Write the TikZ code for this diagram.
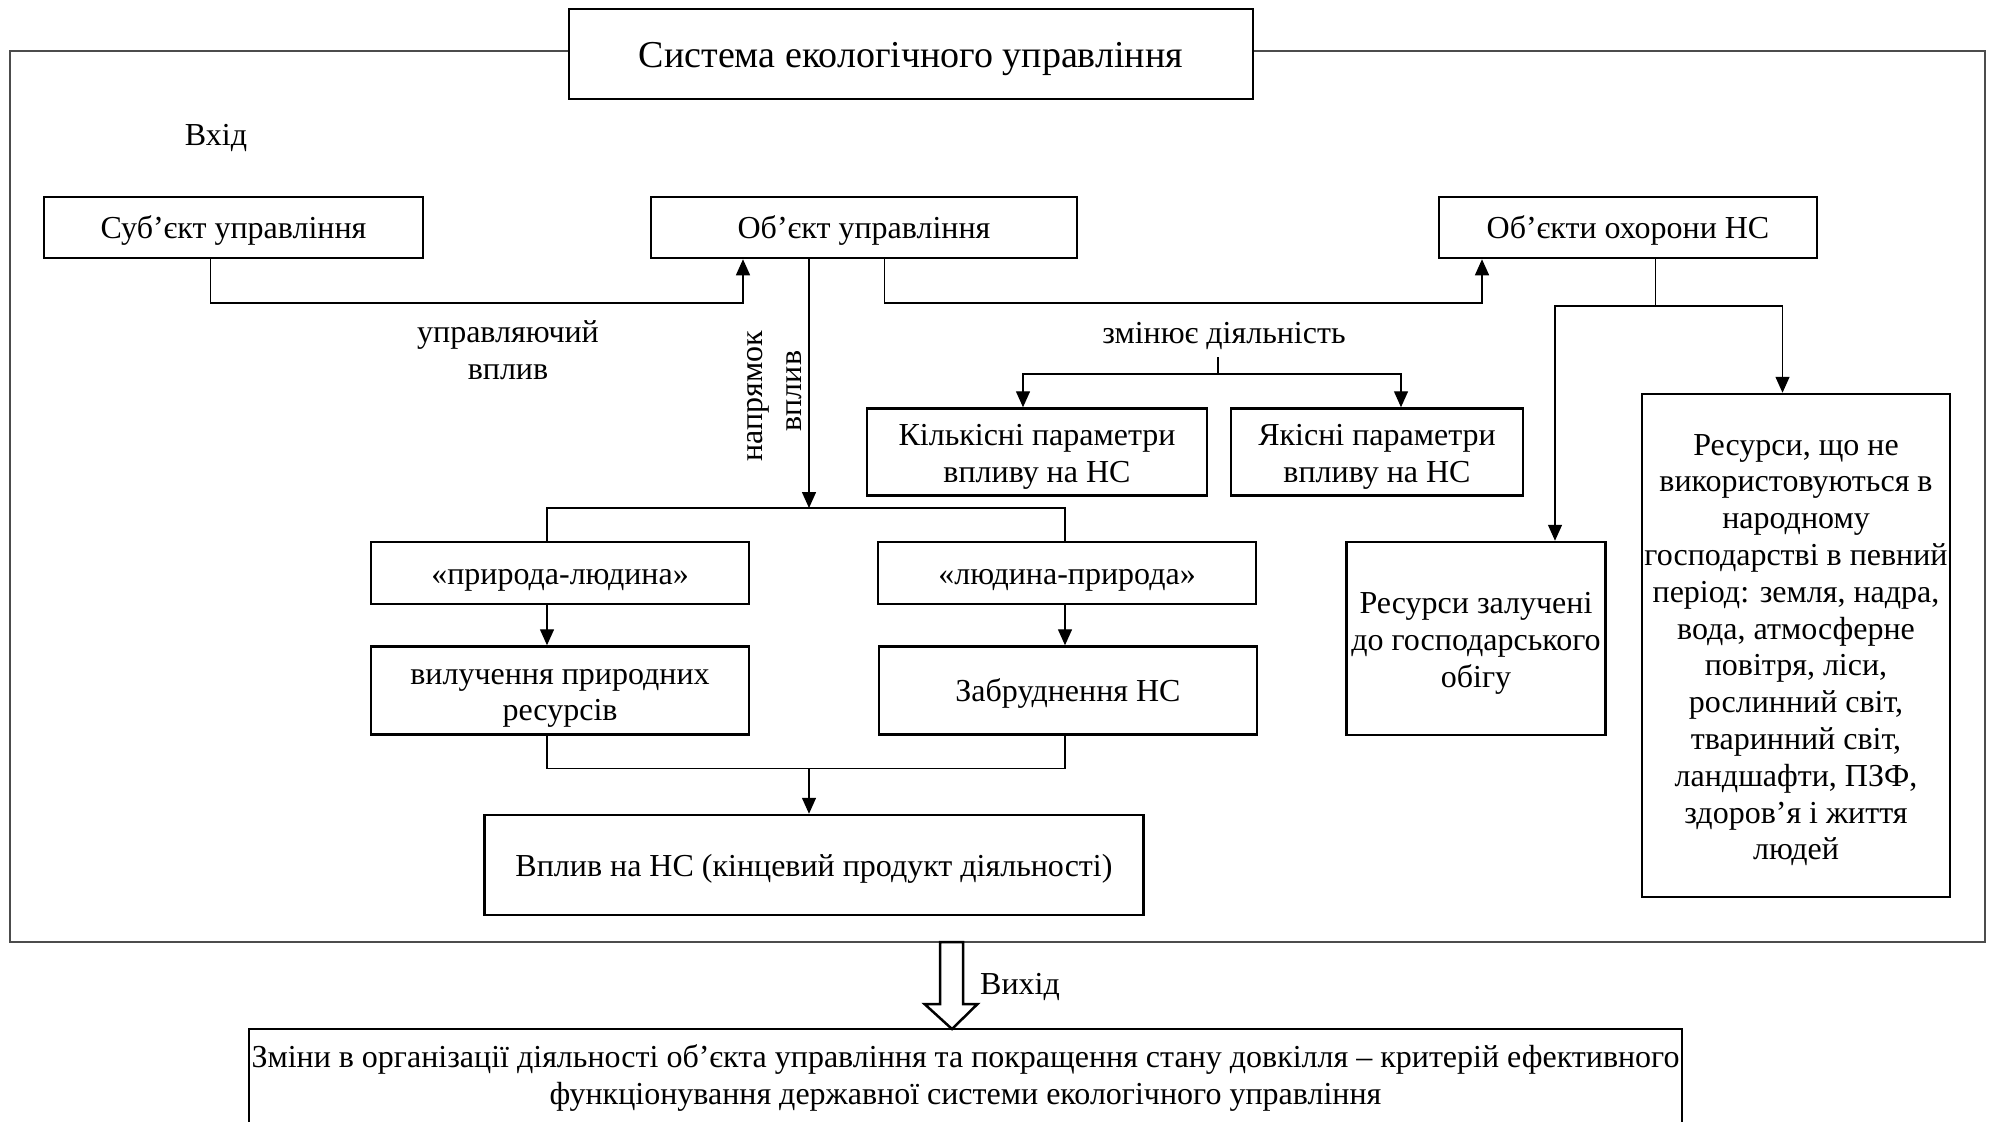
\documentclass[tikz,border=0pt]{standalone}
\usepackage{fontspec}
\setmainfont{Liberation Serif}
\usetikzlibrary{arrows.meta}
\newcommand{\fsn}{\fontsize{16}{18.4}\selectfont}
\begin{document}
\begin{tikzpicture}[x=0.5pt,y=-0.5pt,
  wh/.style n args={2}{minimum width=#1*0.5pt, minimum height=#2*0.5pt},
  plainbox/.style={draw, line width=1.25pt, fill=white, align=center, inner sep=0pt, font=\fsn},
  box/.style={plainbox, execute at begin node={\rule{0pt}{15pt}}, execute at end node={\rule[-3.6pt]{0pt}{0pt}}},
  % multi-line box: #1 = number of lines; the strut reaches from the last baseline to above the first line
  mbox/.style={plainbox, execute at begin node={\rule{0pt}{\dimexpr #1\dimexpr 18.4pt\relax - 18.4pt + 15.5pt\relax}},
               execute at end node={\rule[-3.6pt]{0pt}{0pt}}},
  lbl/.style={inner sep=0pt, align=center, font=\fsn},
  conn/.style={line width=0.7pt},
  arr/.style={conn, -{Triangle[length=8pt,width=7pt]}},
  frame/.style={draw=black!70, line width=1pt}
]
\useasboundingbox (0,0) rectangle (1991,1121);
\clip (0,0) rectangle (1991,1121);

% outer system frame and its title
\draw[frame] (10,51) rectangle (1985,942);
\node[plainbox, wh={684}{90}, font=\fontsize{19}{22}\selectfont,
      execute at begin node={\rule{0pt}{18pt}}, execute at end node={\rule[-4.3pt]{0pt}{0pt}}]
  (title) at (911,54) {Система екологічного управління};
\node[lbl] (in) at (216,138) {Вхід};

% top row
\node[box, wh={379}{61}] (sub)  at (233.5,227.5) {Суб’єкт управління};
\node[box, wh={426}{61}] (obj)  at (864,227.5)   {Об’єкт управління};
\node[box, wh={378}{61}] (prot) at (1628,227.5)  {Об’єкти охорони НС};

% control influence and activity change
\draw[arr] (sub.south -| 210.5,0) |- (743,303) -- (obj.south -| 743,0);
\node[lbl] (ctl) at (508,350) {управляючий\\вплив};
\draw[arr] (obj.south -| 884.6,0) |- (1482,303) -- (prot.south -| 1482,0);

\node[lbl] (chg) at (1224,336) {змінює діяльність};
\coordinate (chgb) at (1218,357);
\coordinate (chgm) at (1218,374);
\node[mbox=2, wh={340}{87}] (kil) at (1037,452) {Кількісні параметри\\впливу на НС};
\node[mbox=2, wh={292}{87}] (yak) at (1377,452) {Якісні параметри\\впливу на НС};
\draw[conn] (chgb) -- (chgm);
\draw[arr] (chgm) -| (kil.north -| 1023,0);
\draw[arr] (chgm) -| (yak.north -| 1401,0);

% direction of influence
\node[lbl, rotate=90] (dir1) at (758,396) {напрямок};
\node[lbl, rotate=90] (dir2) at (794,391) {вплив};
\coordinate (split) at (809,508);
\draw[arr] (obj.south -| 809,0) -- (split);

\node[box, wh={378}{62}] (pl)  at (560,573)    {«природа-людина»};
\node[box, wh={378}{62}] (lp)  at (1067,573)   {«людина-природа»};
\node[mbox=2, wh={378}{88}] (vyl) at (560,690.5) {вилучення природних\\ресурсів};
\node[box, wh={378}{88}] (zab) at (1068,690.5) {Забруднення НС};
\node[box, wh={659}{100}] (vpl) at (814,865)   {Вплив на НС (кінцевий продукт діяльності)};

\draw[conn] (pl.north -| 547,0) |- (1065,508) -- (lp.north -| 1065,0);
\draw[arr] (pl.south -| 547,0) -- (vyl.north -| 547,0);
\draw[arr] (lp.south -| 1065,0) -- (zab.north -| 1065,0);
\draw[conn] (vyl.south -| 547,0) |- (1065,768.5) -- (zab.south -| 1065,0);
\coordinate (join) at (809,768.5);
\draw[arr] (join) -- (vpl.north -| 809,0);

% resources
\node[mbox=3, wh={259}{193}] (rz) at (1476,638.5) {Ресурси залучені\\до господарського\\обігу};
\node[mbox=12, wh={308}{503}] (rn) at (1796,645.5) {Ресурси, що не\\використовуються в\\народному\\господарстві в певний\\період: земля, надра,\\вода, атмосферне\\повітря, ліси,\\рослинний світ,\\тваринний світ,\\ландшафти, ПЗФ,\\здоров’я і життя\\людей};
\coordinate (pm) at (1655.5,306);
\draw[conn] (prot.south -| 1655.5,0) -- (pm);
\draw[arr] (pm) -| (rz.north -| 1555,0);
\draw[arr] (pm) -| (rn.north -| 1782.5,0);

% system output
\node[plainbox, wh={1433}{106}, execute at end node={\rule[-7.1pt]{0pt}{0pt}}]
  (res) at (965.5,1082)
  {\makebox[714pt][s]{Зміни в організації діяльності об’єкта управління та покращення стану довкілля – критерій ефективного}\\функціонування державної системи екологічного управління};
\draw[line width=1.25pt, fill=white, line join=miter]
  (940,942) -- (940,1004) -- (924.5,1004) -- (952,1029) -- (977.5,1004) -- (963,1004) -- (963,942) -- cycle;
\node[lbl] (outl) at (1020,987) {Вихід};
\end{tikzpicture}
\end{document}
